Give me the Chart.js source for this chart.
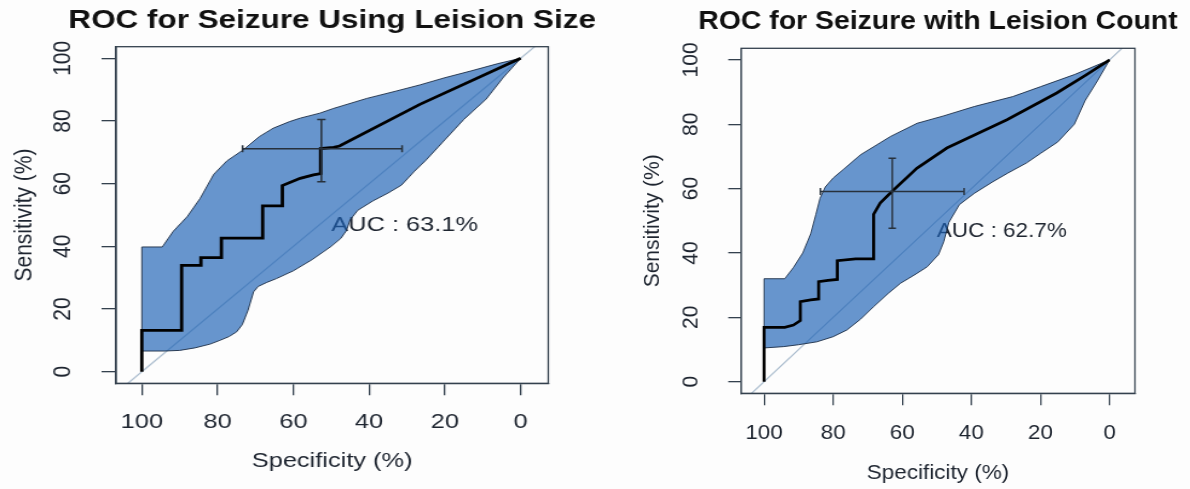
<!DOCTYPE html>
<html>
<head>
<meta charset="utf-8">
<script src="https://cdn.jsdelivr.net/npm/chart.js@4.4.1/dist/chart.umd.min.js"></script>
<style>
html, body { margin: 0; padding: 0; background: #fdfdfd; width: 1190px; height: 489px; overflow: hidden; }
.panel { position: absolute; top: 0; transform-origin: 0 0; }
</style>
</head>
<body>
<!-- the source figure is stretched sideways, so each panel is scaled on x -->
<div class="panel" style="left:0; transform:scaleX(1.209)"><canvas id="chartSize" width="548" height="489"></canvas></div>
<div class="panel" style="left:600px; transform:scaleX(1.071)"><canvas id="chartCount" width="629" height="489"></canvas></div>
<script>
// axis ticks (percent)
var tickValues = [0, 20, 40, 60, 80, 100];

// ---- Lesion size: [specificity, sensitivity]
var sizeRoc = [[100, 0], [100, 13.2], [89.5, 13.2], [89.5, 33.9], [84.4, 33.9], [84.4, 36.4], [79, 36.4], [79, 42.6],
    [68.1, 42.6], [68.1, 52.9], [62.9, 52.9], [62.9, 59.4], [58.2, 61.7], [54.7, 62.8], [52.8, 63.2], [52.8, 71.2],
    [49.4, 71.6], [47.8, 72], [26.6, 85.3], [0, 100]];
var sizeUpper = [[100, 39.8], [94.6, 39.8], [91.7, 44.8], [88, 49.5], [84.6, 55.3], [81, 63], [77.5, 67.3], [73.2, 70.8],
    [69, 75], [65.3, 77.7], [61, 79.8], [58.2, 80.9], [53, 82.5], [49.4, 84], [40.6, 87.2], [33, 89.5], [26.6, 91.5],
    [20, 93.8], [13, 96], [6, 98.3], [0, 100]];
var sizeLower = [[100, 6.6], [94, 6.6], [90, 6.8], [86, 7.6], [82, 8.8], [79.4, 10], [77, 11.2], [75, 12.7], [73.5, 15],
    [72, 19.5], [70.5, 25.5], [69.3, 27.2], [67, 28.5], [64.5, 29.7], [60, 32.2], [55, 35.8], [50, 40], [47.5, 42.5],
    [46, 45], [45, 48.5], [43, 51.5], [39, 54.5], [35, 57], [31.5, 59.5], [28, 64], [25, 67.5], [20, 74], [15, 80.5],
    [9.1, 87], [4.5, 94], [0, 100]];
var sizeCross = [52.6, 71.1];     // spec, sens of best threshold
var sizeSpecCI = [73.4, 31.3];
var sizeSensCI = [60.6, 80.5];

// ---- Lesion count
var countRoc = [[100, 0], [100, 16.9], [94, 16.9], [91.5, 17.6], [89.5, 19], [89.5, 24.9], [86.5, 25.4], [84.2, 25.7],
    [84.2, 31.1], [81.5, 31.5], [78.8, 31.8], [78.8, 37.6], [73.5, 38.2], [68.3, 38.2], [68.3, 52], [66.4, 55.5],
    [63, 59.1], [55.8, 66.3], [47.1, 72.6], [29.7, 81.4], [15.3, 89.7], [7, 95.2], [0, 100]];
var countUpper = [[100, 32], [94, 32], [91.5, 35.5], [88.8, 40], [86.5, 46], [85, 52], [83.8, 57], [82.3, 60.5],
    [80, 63.3], [77, 66], [72.1, 70.5], [63.4, 76.2], [55.7, 80.3], [48, 82.6], [39.2, 85.5], [28, 88.6], [19.9, 91.7],
    [10, 95.5], [0, 100]];
var countLower = [[100, 10.5], [94.4, 10.9], [90, 11.5], [84.7, 12.4], [80, 14], [76, 16.1], [72, 19.5], [68.3, 23.3],
    [64, 27.5], [60.5, 30.6], [56, 33.5], [52.8, 35.7], [49.5, 39.5], [48, 43.5], [46.5, 49.5], [43.5, 55], [39.2, 58.5],
    [34, 62], [29.5, 64.8], [24, 68], [19.9, 71], [15, 74.5], [10.2, 80], [7, 87.5], [3.5, 93.5], [0, 100]];
var countCross = [62.9, 59.1];
var countSpecCI = [83.7, 42.1];
var countSensCI = [47.7, 69.4];

var fontFamily = '"Liberation Sans", Arial, sans-serif';
var textColor = '#1e2530';
var axisColor = '#34414e';

function toPoints(list) {
    return list.map(function (p) { return { x: p[0], y: p[1] }; });
}

// title, box, error cross, AUC label and rotated y labels (R style)
var rocDecor = {
    id: 'rocDecor',
    beforeDatasetsDraw: function (chart, args, o) {
        var c = chart.ctx;
        c.save();
        c.font = '21px ' + fontFamily;
        c.fillStyle = textColor;
        c.textAlign = 'left';
        c.textBaseline = 'top';
        c.fillText(o.auc, chart.scales.x.getPixelForValue(50), chart.scales.y.getPixelForValue(50));
        c.restore();
    },
    afterDatasetsDraw: function (chart, args, o) {
        var c = chart.ctx, xs = chart.scales.x, ys = chart.scales.y, a = chart.chartArea;
        var cap = 3.5;
        c.save();
        c.strokeStyle = '#27313c';
        c.lineWidth = 1.5;
        var cy = ys.getPixelForValue(o.cross[1]);
        var cx = xs.getPixelForValue(o.cross[0]);
        var x1 = xs.getPixelForValue(o.specCI[0]), x2 = xs.getPixelForValue(o.specCI[1]);
        var y1 = ys.getPixelForValue(o.sensCI[0]), y2 = ys.getPixelForValue(o.sensCI[1]);
        c.beginPath();
        c.moveTo(x1, cy); c.lineTo(x2, cy);
        c.moveTo(x1, cy - cap); c.lineTo(x1, cy + cap);
        c.moveTo(x2, cy - cap); c.lineTo(x2, cy + cap);
        c.moveTo(cx, y1); c.lineTo(cx, y2);
        c.moveTo(cx - cap, y1); c.lineTo(cx + cap, y1);
        c.moveTo(cx - cap, y2); c.lineTo(cx + cap, y2);
        c.stroke();
        c.strokeStyle = axisColor;
        c.lineWidth = 1.3;
        c.strokeRect(a.left, a.top, a.right - a.left, a.bottom - a.top);
        c.restore();
    },
    afterDraw: function (chart, args, o) {
        var c = chart.ctx, ys = chart.scales.y, a = chart.chartArea;
        c.save();
        // main title, centred over the plot box
        c.font = 'bold ' + o.titleSize + 'px ' + fontFamily;
        c.fillStyle = '#111111';
        c.textAlign = 'center';
        c.textBaseline = 'middle';
        c.fillText(o.title, (a.left + a.right) / 2, o.titleY);
        c.font = '21px ' + fontFamily;
        c.fillStyle = textColor;
        ys.ticks.forEach(function (t) {
            c.save();
            c.translate(a.left - o.yLabelGap, ys.getPixelForValue(t.value));
            c.rotate(-Math.PI / 2);
            c.fillText(String(t.value), 0, 0);
            c.restore();
        });
        c.restore();
    }
};

function BuildRoc(canvasId, roc, upper, lower, opt) {
    var ctx = document.getElementById(canvasId).getContext('2d');
    var shape = upper.concat(lower.slice().reverse());
    shape.push(upper[0]);
    var setTicks = function (axis) {
        axis.ticks = tickValues.map(function (v) { return { value: v }; });
    };
    return new Chart(ctx, {
        type: 'line',
        data: {
            datasets: [{
                data: toPoints(roc),
                borderColor: '#000000',
                borderWidth: 2.8,
                borderJoinStyle: 'miter',
                pointRadius: 0,
                fill: false,
                order: 1
            }, {
                data: toPoints(shape),
                borderColor: 'rgba(28,45,70,0.9)',
                borderWidth: 1,
                backgroundColor: 'rgba(28,97,182,0.667)',
                pointRadius: 0,
                fill: 'shape',
                order: 2
            }, {
                // chance line across the whole plot region
                data: [{ x: opt.xMax, y: 100 - opt.xMax }, { x: opt.xMin, y: 100 - opt.xMin }],
                borderColor: '#aebfd0',
                borderWidth: 1.3,
                pointRadius: 0,
                fill: false,
                clip: 0,
                order: 3
            }]
        },
        options: {
            responsive: false,
            animation: false,
            devicePixelRatio: 1,
            layout: { padding: { left: 0, right: opt.padRight, top: opt.padTop, bottom: 0 } },
            plugins: {
                legend: { display: false },
                tooltip: { enabled: false },
                title: { display: false },
                rocDecor: {
                    title: opt.title, titleSize: opt.titleSize, titleY: opt.titleY,
                    auc: opt.auc, cross: opt.cross, specCI: opt.specCI, sensCI: opt.sensCI, yLabelGap: opt.yLabelGap
                }
            },
            scales: {
                x: {
                    type: 'linear',
                    reverse: true,
                    min: opt.xMin,
                    max: opt.xMax,
                    afterBuildTicks: setTicks,
                    afterFit: function (axis) { axis.height = opt.xHeight; },
                    grid: { drawOnChartArea: false, drawTicks: true, tickLength: 12, color: axisColor, lineWidth: 1.3 },
                    border: { display: true, color: axisColor, width: 1.3 },
                    ticks: { color: textColor, padding: opt.tickPad, font: { family: fontFamily, size: 21 } },
                    title: {
                        display: true,
                        text: 'Specificity (%)',
                        color: textColor,
                        font: { family: fontFamily, size: 21 },
                        padding: { top: 0, bottom: opt.xTitlePad }
                    }
                },
                y: {
                    type: 'linear',
                    min: opt.yMin,
                    max: opt.yMax,
                    afterBuildTicks: setTicks,
                    afterFit: function (axis) { axis.width = opt.yWidth; },
                    grid: { drawOnChartArea: false, drawTicks: true, tickLength: 12, color: axisColor, lineWidth: 1.3 },
                    border: { display: true, color: axisColor, width: 1.3 },
                    ticks: { display: false },
                    title: {
                        display: true,
                        text: 'Sensitivity (%)',
                        color: textColor,
                        font: { family: fontFamily, size: 21 },
                        padding: { top: opt.yTitlePad, bottom: 0 }
                    }
                }
            }
        },
        plugins: [rocDecor]
    });
}

BuildRoc('chartSize', sizeRoc, sizeUpper, sizeLower, {
    title: 'ROC for Seizure Using Leision Size', titleSize: 26, titleY: 20.5,
    auc: 'AUC : 63.1%',
    cross: sizeCross, specCI: sizeSpecCI, sensCI: sizeSensCI,
    xMin: -7.3, xMax: 106.8, yMin: -3.7, yMax: 103.7,
    padRight: 94.5, padTop: 46.7, yWidth: 96, xHeight: 105.7,
    yTitlePad: 8, xTitlePad: 15.6, yLabelGap: 43.8, tickPad: 14.6
});

BuildRoc('chartCount', countRoc, countUpper, countLower, {
    title: 'ROC for Seizure with Leision Count', titleSize: 26.5, titleY: 21.5,
    auc: 'AUC : 62.7%',
    cross: countCross, specCI: countSpecCI, sensCI: countSensCI,
    xMin: -7.35, xMax: 106.66, yMin: -3.6, yMax: 103.6,
    padRight: 129.5, padTop: 48.3, yWidth: 131.7, xHeight: 95.7,
    yTitlePad: 36.6, xTitlePad: 2.7, yLabelGap: 46.1, tickPad: 15.5
});
</script>
</body>
</html>
